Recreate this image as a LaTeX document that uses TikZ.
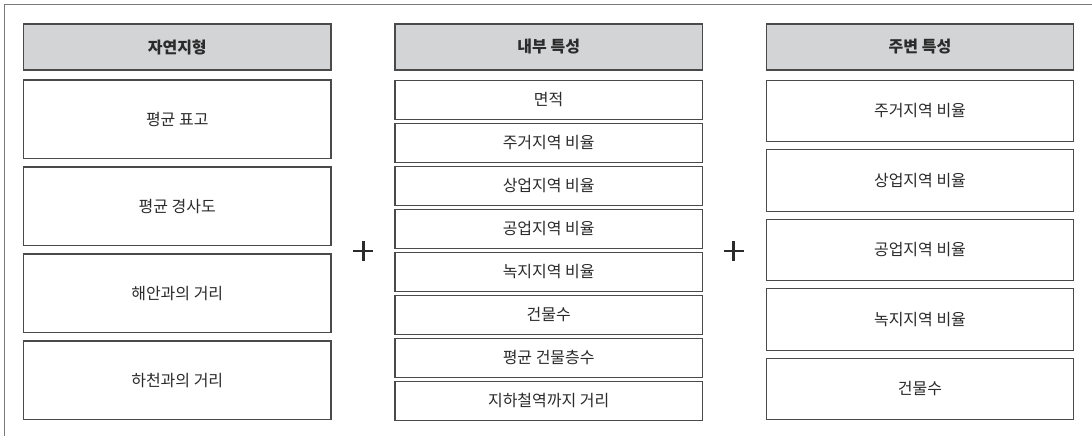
\documentclass[tikz,border=0pt]{standalone}
\usepackage{fontspec}
\setmainfont{Noto Sans CJK KR}
\newfontfamily\kr{Noto Sans CJK KR}
\definecolor{txt}{HTML}{2B2B2B}
\definecolor{edge}{HTML}{4A4A4A}
\definecolor{hdr}{HTML}{D3D4D6}
\definecolor{frame}{HTML}{7A7A7A}
\begin{document}
\begin{tikzpicture}[x=0.75pt,y=-0.75pt,
  cell/.style={draw=edge,line width=0.9pt,fill=white,inner sep=0pt,outer sep=0pt,
    minimum width=307.5*0.75pt,text=txt,font=\kr\fontsize{12pt}{14pt}\selectfont},
  hbox/.style={cell,fill=hdr,minimum height=46*0.75pt,font=\kr\bfseries\fontsize{12pt}{14pt}\selectfont},
  big/.style={cell,minimum height=78.5*0.75pt},
  small/.style={cell,minimum height=38.5*0.75pt},
  mid/.style={cell,minimum height=61.3*0.75pt},
  plusline/.style={draw=txt,line width=1.9pt}]
\useasboundingbox (0,0) rectangle (1092,436);
\draw[frame,line width=1.2pt] (4.5,436) -- (4.5,4.5) -- (1092,4.5);
% left column
\node[hbox] (h1) at (177.25,47) {자연지형};
\node[big] (a1) at (177.25,119.25) {평균 표고};
\node[big] (a2) at (177.25,206.25) {평균 경사도};
\node[big] (a3) at (177.25,293.25) {해안과의 거리};
\node[big] (a4) at (177.25,380.25) {하천과의 거리};
% middle column
\node[hbox] (h2) at (548.7,47) {내부 특성};
\node[small] (b1) at (548.7,99.95) {면적};
\node[small] (b2) at (548.7,142.95) {주거지역 비율};
\node[small] (b3) at (548.7,185.95) {상업지역 비율};
\node[small] (b4) at (548.7,228.95) {공업지역 비율};
\node[small] (b5) at (548.7,271.95) {녹지지역 비율};
\node[small] (b6) at (548.7,314.95) {건물수};
\node[small] (b7) at (548.7,357.95) {평균 건물층수};
\node[small] (b8) at (548.7,400.95) {지하철역까지 거리};
% right column
\node[hbox] (h3) at (920,47) {주변 특성};
\node[mid] (c1) at (920,110.95) {주거지역 비율};
\node[mid] (c2) at (920,180.45) {상업지역 비율};
\node[mid] (c3) at (920,249.95) {공업지역 비율};
\node[mid] (c4) at (920,319.45) {녹지지역 비율};
\node[mid] (c5) at (920,388.95) {건물수};
% plus signs
\coordinate (p1) at (363.3,251);
\coordinate (p2) at (733.7,251);
\foreach \p in {p1,p2}{
  \draw[plusline] ([xshift=-10*0.75pt]\p) -- ([xshift=10*0.75pt]\p);
  \draw[plusline] ([yshift=-10*0.75pt]\p) -- ([yshift=10*0.75pt]\p);
}
\end{tikzpicture}
\end{document}
